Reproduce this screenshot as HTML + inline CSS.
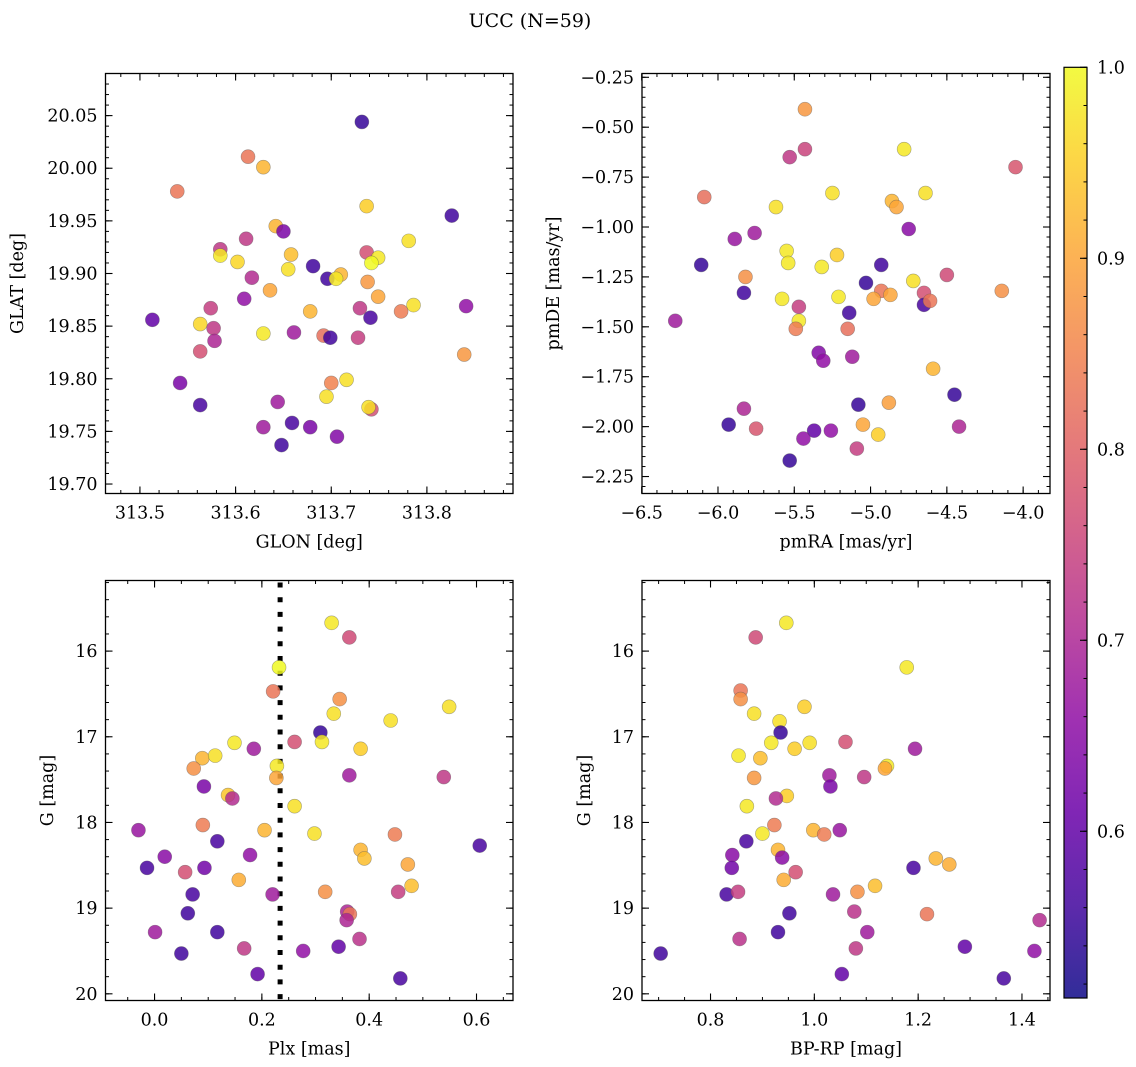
<!DOCTYPE html>
<html><head><meta charset="utf-8"><style>
body{margin:0;background:#fff;}
svg{display:block;font-family:"DejaVu Serif","Liberation Serif",serif;}
</style></head><body>
<svg id="fig" width="1136" height="1067" xmlns="http://www.w3.org/2000/svg">
<rect width="1136" height="1067" fill="#fff"/>
<text x="530" y="27" font-size="19" text-anchor="middle">UCC (N=59)</text>
</svg>
<script>
const glon=[313.732,313.613,313.629,313.539,313.737,313.826,313.642,313.650,313.781,313.611,313.584,313.584,313.658,313.737,313.602,313.749,313.742,313.681,313.655,313.617,313.696,313.710,313.705,313.636,313.738,313.749,313.609,313.574,313.730,313.678,313.741,313.786,313.773,313.841,313.513,313.563,313.577,313.578,313.629,313.661,313.692,313.699,313.728,313.563,313.839,313.542,313.716,313.700,313.695,313.742,313.739,313.563,313.644,313.629,313.659,313.678,313.706,313.648];
const glat=[20.044,20.011,20.001,19.978,19.964,19.955,19.945,19.940,19.931,19.933,19.923,19.917,19.918,19.920,19.911,19.915,19.910,19.907,19.904,19.896,19.895,19.899,19.895,19.884,19.892,19.878,19.876,19.867,19.867,19.864,19.858,19.870,19.864,19.869,19.856,19.852,19.848,19.836,19.843,19.844,19.841,19.839,19.839,19.826,19.823,19.796,19.799,19.796,19.783,19.771,19.773,19.775,19.778,19.754,19.758,19.754,19.745,19.737];
const cGal=[.55,.83,.92,.83,.95,.56,.92,.63,.97,.73,.73,.98,.93,.77,.96,.98,1.0,.56,.97,.71,.56,.92,.98,.9,.88,.9,.66,.74,.73,.92,.57,.97,.84,.66,.6,.96,.73,.7,.98,.68,.82,.56,.74,.77,.88,.63,.97,.85,.97,.77,.97,.57,.68,.68,.57,.63,.64,.56];

const pmra=[-5.43,-5.43,-5.53,-4.78,-4.05,-6.09,-5.25,-4.64,-5.62,-4.86,-4.83,-4.75,-5.89,-5.76,-5.55,-5.54,-5.22,-5.32,-6.11,-4.93,-5.82,-4.50,-5.03,-4.72,-5.83,-4.93,-4.98,-4.87,-4.65,-4.65,-4.61,-4.14,-5.58,-5.21,-5.47,-5.47,-5.49,-5.14,-5.15,-6.28,-5.34,-5.31,-5.12,-4.59,-4.45,-5.83,-5.93,-5.75,-5.08,-4.88,-5.05,-4.95,-4.42,-5.37,-5.26,-5.44,-5.09,-5.53];
const pmde=[-0.41,-0.61,-0.65,-0.61,-0.70,-0.85,-0.83,-0.83,-0.90,-0.87,-0.90,-1.01,-1.06,-1.03,-1.12,-1.18,-1.14,-1.20,-1.19,-1.19,-1.25,-1.24,-1.28,-1.27,-1.33,-1.32,-1.36,-1.34,-1.33,-1.39,-1.37,-1.32,-1.36,-1.35,-1.40,-1.47,-1.51,-1.43,-1.51,-1.47,-1.63,-1.67,-1.65,-1.71,-1.84,-1.91,-1.99,-2.01,-1.89,-1.88,-1.99,-2.04,-2.00,-2.02,-2.02,-2.06,-2.11,-2.17];
const cPm=[.88,.75,.73,.98,.78,.82,.97,.97,.97,.92,.9,.65,.67,.68,.98,.98,.95,.98,.55,.56,.87,.76,.55,.97,.56,.83,.9,.9,.77,.57,.83,.87,.98,.98,.74,.98,.84,.56,.82,.68,.64,.66,.68,.92,.55,.7,.55,.78,.55,.89,.9,.95,.7,.6,.66,.66,.74,.55];

const plx=[.330,.363,.232,.221,.345,.549,.334,.440,.309,.261,.312,.149,.185,.384,.089,.113,.228,.073,.227,.363,.539,.092,.137,.145,.261,-.030,.090,.205,.298,.448,.117,.606,.384,.391,.019,.178,-.014,.093,.057,.472,.157,.479,.071,.220,.318,.454,.062,.359,.364,.358,.001,.117,.382,.050,.167,.277,.343,.192,.458];
const gPlx=[15.67,15.84,16.19,16.47,16.56,16.65,16.73,16.81,16.95,17.06,17.06,17.07,17.14,17.14,17.25,17.22,17.34,17.37,17.48,17.45,17.47,17.58,17.68,17.72,17.81,18.09,18.03,18.09,18.13,18.14,18.22,18.27,18.32,18.42,18.40,18.38,18.53,18.53,18.58,18.49,18.67,18.74,18.84,18.84,18.81,18.81,19.06,19.04,19.07,19.14,19.28,19.28,19.36,19.53,19.47,19.50,19.45,19.77,19.82];
const cPlx=[.98,.76,1.0,.83,.87,.97,.97,.97,.55,.77,.98,.98,.68,.95,.92,.97,.98,.87,.9,.68,.73,.63,.94,.71,.97,.67,.84,.92,.97,.84,.57,.57,.92,.93,.65,.66,.57,.62,.77,.9,.91,.93,.57,.68,.87,.74,.56,.7,.83,.7,.68,.56,.72,.56,.73,.66,.6,.6,.57];
const plxLine=[0.234];

const bprp=[.946,.887,1.178,.858,.858,.981,.884,.933,.935,1.060,.991,.917,1.194,.962,.854,.896,1.140,1.136,1.029,1.096,.884,1.031,.947,.926,.870,.923,1.049,.998,1.019,.900,.869,.930,.938,.842,1.234,1.260,.841,1.191,.964,.941,1.117,.831,.853,1.036,1.083,.952,1.077,1.217,1.434,.930,1.102,.856,.704,1.080,1.290,1.424,1.053,1.365];
const gCmd=[15.67,15.84,16.19,16.46,16.56,16.65,16.73,16.82,16.95,17.06,17.07,17.07,17.14,17.14,17.22,17.25,17.34,17.37,17.45,17.47,17.48,17.58,17.69,17.72,17.81,18.03,18.09,18.09,18.14,18.13,18.22,18.32,18.41,18.38,18.42,18.49,18.53,18.53,18.58,18.67,18.74,18.84,18.81,18.84,18.81,19.06,19.04,19.07,19.14,19.28,19.28,19.36,19.53,19.47,19.45,19.50,19.77,19.82];
const cCmd=[.98,.76,.98,.83,.87,.95,.97,.97,.55,.77,.97,.98,.68,.95,.98,.93,.98,.9,.68,.73,.88,.63,.95,.71,.98,.84,.67,.92,.84,.98,.57,.92,.65,.65,.92,.91,.62,.57,.77,.91,.93,.57,.74,.68,.87,.56,.72,.83,.71,.56,.68,.72,.56,.73,.6,.66,.6,.57];

const glonTicks=[313.5,313.6,313.7,313.8];
const glatTicks=[19.70,19.75,19.80,19.85,19.90,19.95,20.00,20.05];
const pmraTicks=[-6.5,-6.0,-5.5,-5.0,-4.5,-4.0];
const pmdeTicks=[-2.25,-2.00,-1.75,-1.50,-1.25,-1.00,-0.75,-0.50,-0.25];
const plxTicks=[0.0,0.2,0.4,0.6];
const gTicks=[16,17,18,19,20];
const bprpTicks=[0.8,1.0,1.2,1.4];
const cbarTicks=[0.6,0.7,0.8,0.9,1.0];
const cMin=0.5127, cMax=1.0;

const NS='http://www.w3.org/2000/svg';
const svg=document.getElementById('fig');
function mk(tag,attrs,parent){const e=document.createElementNS(NS,tag);for(const k in attrs)e.setAttribute(k,attrs[k]);(parent||svg).appendChild(e);return e;}
const stops=[[13,8,135],[65,4,157],[106,0,168],[143,13,164],[177,42,144],[204,71,120],[225,100,98],[242,132,75],[252,166,54],[252,206,37],[240,249,33]];
function plasma(t){t=Math.max(0,Math.min(1,t));const f=t*10,i=Math.min(9,Math.floor(f)),r=f-i;const a=stops[i],b=stops[i+1];return 'rgb('+a.map((v,k)=>Math.round(v+(b[k]-v)*r)).join(',')+')';}
function cval(c){return plasma((c-cMin)/(cMax-cMin));}
function fmt(v,d){const s=Math.abs(v).toFixed(d);return (v<0?'\u2212':'')+s;}
const TF=17.5, LF=17.5;

function panel(o){
  const g=mk('g',{});
  
  
  const X=v=>o.L+(v-o.x0)/(o.x1-o.x0)*(o.R-o.L);
  const Y=v=>o.T+(v-o.y0)/(o.y1-o.y0)*(o.B-o.T);
  const lo=Math.min(o.x0,o.x1),hi=Math.max(o.x0,o.x1);
  for(let v=Math.ceil(lo/o.xm-1e-6)*o.xm;v<=hi+1e-9;v+=o.xm){const p=X(v);
    mk('line',{x1:p,x2:p,y1:o.B,y2:o.B-3.5,stroke:'#000','stroke-width':1},g);
    mk('line',{x1:p,x2:p,y1:o.T,y2:o.T+3.5,stroke:'#000','stroke-width':1},g);}
  const ylo=Math.min(o.y0,o.y1),yhi=Math.max(o.y0,o.y1);
  for(let v=Math.ceil(ylo/o.ym-1e-6)*o.ym;v<=yhi+1e-9;v+=o.ym){const p=Y(v);
    mk('line',{x1:o.L,x2:o.L+3.5,y1:p,y2:p,stroke:'#000','stroke-width':1},g);
    mk('line',{x1:o.R,x2:o.R-3.5,y1:p,y2:p,stroke:'#000','stroke-width':1},g);}
  o.xt.forEach(v=>{const p=X(v);
    mk('line',{x1:p,x2:p,y1:o.B,y2:o.B-7,stroke:'#000','stroke-width':1.1},g);
    mk('line',{x1:p,x2:p,y1:o.T,y2:o.T+7,stroke:'#000','stroke-width':1.1},g);
    const t=mk('text',{x:p,y:o.B+25,'font-size':TF,'text-anchor':'middle'},g);t.textContent=fmt(v,o.xd);
    
    });
  o.yt.forEach(v=>{const p=Y(v);
    mk('line',{x1:o.L,x2:o.L+7,y1:p,y2:p,stroke:'#000','stroke-width':1.1},g);
    mk('line',{x1:o.R,x2:o.R-7,y1:p,y2:p,stroke:'#000','stroke-width':1.1},g);
    const t=mk('text',{x:o.L-8,y:p+6,'font-size':TF,'text-anchor':'end'},g);t.textContent=fmt(v,o.yd);
    
    });
  if(o.vline!==undefined){const p=X(o.vline);
    const ln=mk('line',{x1:p,x2:p,y1:o.T+2,y2:o.B,stroke:'#000','stroke-width':5,'stroke-dasharray':'5 9.7'},g);
    
    }
  o.xs.forEach((v,i)=>{
    const c=mk('circle',{cx:X(v),cy:Y(o.ys[i]),r:7,fill:cval(o.cs[i]),'fill-opacity':0.85,stroke:'#555','stroke-opacity':0.5,'stroke-width':0.6},g);
    
    });
  const fr=mk('rect',{x:o.L,y:o.T,width:o.R-o.L,height:o.B-o.T,fill:'none',stroke:'#000','stroke-width':1.3},g);
  
  
  const xl=mk('text',{x:(o.L+o.R)/2,y:o.B+54,'font-size':LF,'text-anchor':'middle'},g);xl.textContent=o.xl;
  
  
  const yl=mk('text',{x:o.ylx,y:(o.T+o.B)/2,'font-size':LF,'text-anchor':'middle',transform:'rotate(-90 '+o.ylx+' '+(o.T+o.B)/2+')'},g);yl.textContent=o.yl;
  
  
}
panel({name:'panel-glon-glat',L:105.5,R:513,T:73.5,B:493.5,x0:313.464,x1:313.890,y0:20.090,y1:19.691,xm:0.02,ym:0.01,xt:glonTicks,yt:glatTicks,xd:1,yd:2,xs:glon,ys:glat,cs:cGal,xl:'GLON [deg]',yl:'GLAT [deg]',ylx:23});
panel({name:'panel-pm',L:642,R:1050,T:73.5,B:493.5,x0:-6.498,x1:-3.824,y0:-0.231,y1:-2.335,xm:0.1,ym:0.05,xt:pmraTicks,yt:pmdeTicks,xd:1,yd:2,xs:pmra,ys:pmde,cs:cPm,xl:'pmRA [mas/yr]',yl:'pmDE [mas/yr]',ylx:559});
panel({name:'panel-plx-g',L:105.5,R:513,T:580.5,B:1000.5,x0:-0.0914,x1:0.668,y0:15.176,y1:20.078,xm:0.05,ym:0.2,xt:plxTicks,yt:gTicks,xd:1,yd:0,xs:plx,ys:gPlx,cs:cPlx,xl:'Plx [mas]',yl:'G [mag]',ylx:53,vline:plxLine[0]});
panel({name:'panel-cmd',L:642,R:1050,T:580.5,B:1000.5,x0:0.668,x1:1.454,y0:15.176,y1:20.078,xm:0.05,ym:0.2,xt:bprpTicks,yt:gTicks,xd:1,yd:0,xs:bprp,ys:gCmd,cs:cCmd,xl:'BP-RP [mag]',yl:'G [mag]',ylx:590});

const cb=mk('g',{});


const cbL=1064,cbR=1087,cbT=67.3,cbB=998;
const CY=v=>cbB-(v-cMin)/(cMax-cMin)*(cbB-cbT);
const defs=mk('defs',{},cb);
const lg=mk('linearGradient',{id:'cbg',x1:0,y1:1,x2:0,y2:0},defs);
for(let i=0;i<=10;i++){mk('stop',{offset:i/10,'stop-color':plasma(i/10),'stop-opacity':0.85},lg);}
mk('rect',{x:cbL,y:cbT,width:cbR-cbL,height:cbB-cbT,fill:'url(#cbg)',stroke:'#000','stroke-width':1.2},cb);
for(let v=0.52;v<=1.0001;v+=0.02){const p=CY(v);mk('line',{x1:cbR,x2:cbR-3.5,y1:p,y2:p,stroke:'#000','stroke-width':1},cb);}
cbarTicks.forEach(v=>{const p=CY(v);
  mk('line',{x1:cbR,x2:cbR-7,y1:p,y2:p,stroke:'#000','stroke-width':1.1},cb);
  const t=mk('text',{x:cbR+10,y:p+6,'font-size':TF},cb);t.textContent=v.toFixed(1);
  
  });
</script>
</body></html>
